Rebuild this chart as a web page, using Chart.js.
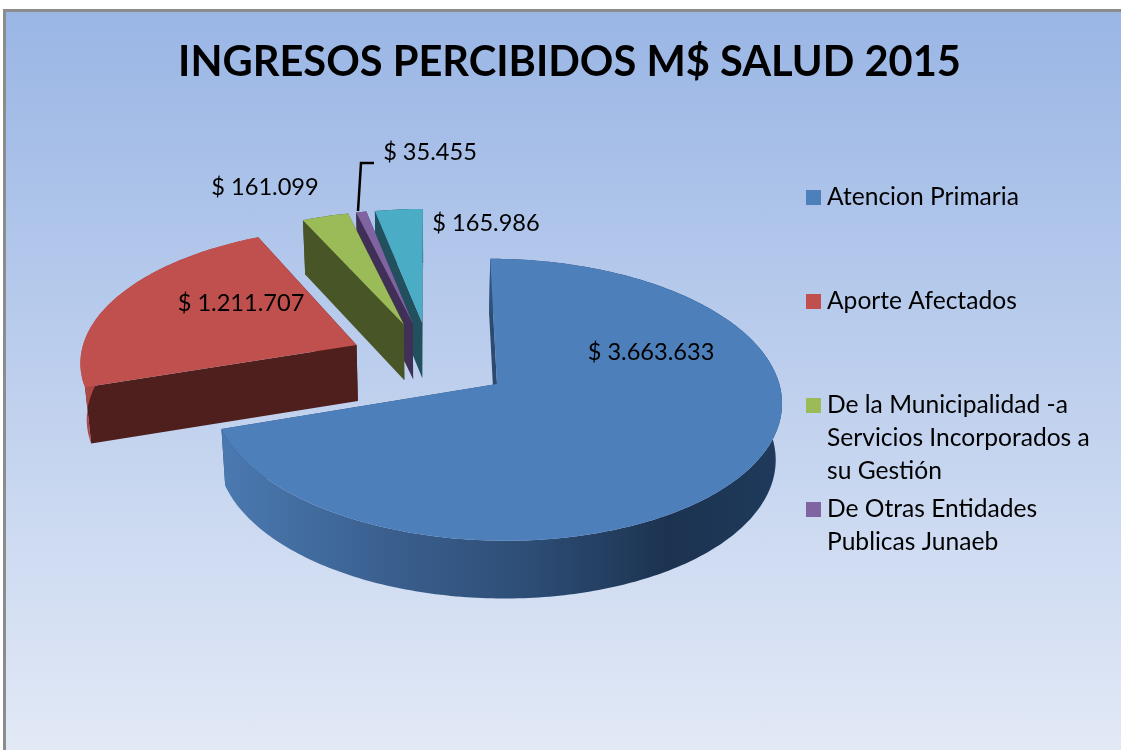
<!DOCTYPE html>
<html><head><meta charset="utf-8">
<script src="https://cdn.jsdelivr.net/npm/chart.js@4"></script>
<style>
html,body{margin:0;padding:0;background:#fff;width:1121px;height:750px;overflow:hidden}
#bg{position:absolute;left:3px;top:9px;width:1118px;height:741px;box-sizing:border-box;border-left:3px solid #8c8c8c;border-top:3px solid #8c8c8c;background:linear-gradient(#9ab6e5,#e2e9f6)}
canvas{position:absolute;left:0;top:0}
</style></head><body>
<div id="bg"></div>
<canvas id="c" width="1121" height="750"></canvas>
<script>
const titleText = 'INGRESOS PERCIBIDOS M$ SALUD 2015';
const categories = ['Atencion Primaria','Aporte Afectados','De la Municipalidad -a Servicios Incorporados a su Gestión','De Otras Entidades Publicas Junaeb',''];
const values = [3663633,1211707,161099,35455,165986];
const topColors = ['#4d7fbb','#c0504d','#9bbb59','#8064a2','#4bacc6'];
const sideColors = ['#2c4a70','#4e1f1c','#475527','#402f56','#22505e'];
const rimColors = ['#2c4a70','#ab4744','#475527','#402f56','#22505e'];
const legendLines = [['Atencion Primaria'],['Aporte Afectados'],['De la Municipalidad -a','Servicios Incorporados a','su Gestión'],['De Otras Entidades','Publicas Junaeb']];
const legendTops = [197,301,405,509];
const labelCentres = [[651,352],[241,303],[265,187],[430,152],[486,223]];
const labelFont = '23.6px Lato';
const legendFont = '24.6px Lato';

// view of the tilted pie plane
const VIEW = {cx:430, cy:360.5, sx:277, sy:134, k:0.11, depth:56};
function project(u,v,down){
  const w = 1 - VIEW.k*v;
  const s = down ? 0.982 : 1;
  return [VIEW.cx + VIEW.sx*u*s/w,
          VIEW.cy + VIEW.sy*v/w + (down ? VIEW.depth + 1.5*v : 0)];
}
function money(n){ return '$ ' + String(n).replace(/\B(?=(\d{3})+$)/g,'.'); }
function path(ctx,pts){ ctx.beginPath(); pts.forEach((p,i)=> i?ctx.lineTo(p[0],p[1]):ctx.moveTo(p[0],p[1])); ctx.closePath(); }

const pie3d = {
  id:'pie3d',
  beforeDatasetsDraw(chart){
    const ctx = chart.ctx, arcs = chart.getDatasetMeta(0).data;
    ctx.save();
    [4,3,2,1,0].forEach(i=>{
      const el = arcs[i], a0 = el.startAngle, a1 = el.endAngle, mid = (a0+a1)/2;
      const e = el.options.offset/el.outerRadius;
      const ou = e*Math.cos(mid), ov = e*Math.sin(mid);
      const n = Math.max(4,Math.ceil((a1-a0)*60));
      const rim = [];
      for(let j=0;j<=n;j++){ const a=a0+(a1-a0)*j/n; rim.push([ou+Math.cos(a),ov+Math.sin(a)]); }
      const apex=[ou,ov];
      // radial walls
      ctx.fillStyle = sideColors[i];
      [rim[0],rim[n]].forEach(q=>{
        path(ctx,[project(apex[0],apex[1]),project(q[0],q[1]),project(q[0],q[1],true),project(apex[0],apex[1],true)]);
        ctx.fill();
      });
      // outer wall
      const wall = rim.map(q=>project(q[0],q[1])).concat(rim.slice().reverse().map(q=>project(q[0],q[1],true)));
      path(ctx,wall);
      if(i===0){
        const g = ctx.createLinearGradient(224,0,780,0);
        g.addColorStop(0,'#4a79b0'); g.addColorStop(0.3,'#3a5f8e'); g.addColorStop(0.55,'#2d4d75');
        g.addColorStop(0.8,'#1c3350'); g.addColorStop(1,'#1f3a5c');
        ctx.fillStyle = g;
      } else ctx.fillStyle = rimColors[i];
      ctx.fill();
      // top face
      path(ctx,[project(apex[0],apex[1])].concat(rim.map(q=>project(q[0],q[1]))));
      ctx.fillStyle = topColors[i]; ctx.fill();
    });
    // leader for the small slice
    ctx.strokeStyle='#000'; ctx.lineWidth=2.5;
    ctx.beginPath(); ctx.moveTo(358,211); ctx.lineTo(361,163); ctx.lineTo(374,163); ctx.stroke();
    // value labels
    ctx.fillStyle='#000'; ctx.font=labelFont; ctx.textAlign='center'; ctx.textBaseline='middle';
    values.forEach((v,i)=>ctx.fillText(money(v),labelCentres[i][0],labelCentres[i][1]));
    // legend
    ctx.textAlign='left'; ctx.font=legendFont;
    legendLines.forEach((lines,i)=>{
      ctx.fillStyle=topColors[i];
      ctx.fillRect(806,legendTops[i]-7,15,15);
      ctx.fillStyle='#000';
      lines.forEach((t,j)=>ctx.fillText(t,827,legendTops[i]+j*33));
    });
    ctx.restore();
    return false;
  }
};

new Chart(document.getElementById('c'),{
  type:'pie',
  data:{labels:categories,datasets:[{data:values,backgroundColor:topColors,offset:82,borderWidth:0,clip:false}]},
  options:{
    responsive:false,animation:false,
    layout:{padding:{left:18,right:0,top:0,bottom:0}},
    plugins:{
      legend:{display:false},tooltip:{enabled:false},
      title:{display:true,text:titleText,color:'#000',fullSize:false,
        font:{family:'Lato',weight:'bold',size:41.6},padding:{top:38,bottom:20}}
    }
  },
  plugins:[pie3d]
});
</script>
</body></html>
